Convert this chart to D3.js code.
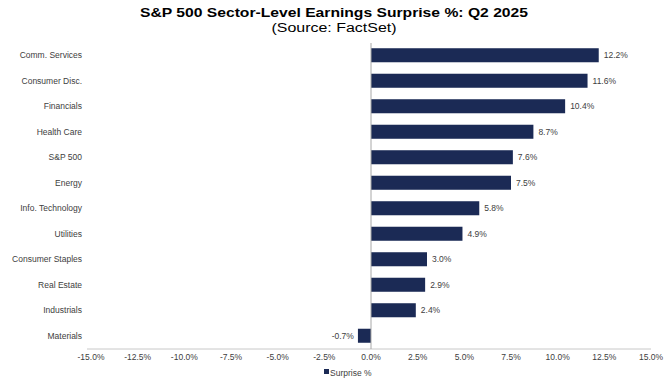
<!DOCTYPE html>
<html>
<head>
<meta charset="utf-8">
<script src="https://cdn.jsdelivr.net/npm/d3@7"></script>
<style>
  body { margin: 0; background: #fff; }
  text { font-family: "Liberation Sans", Arial, sans-serif; }
</style>
</head>
<body>
<svg id="chart"></svg>
<script>
const sectors = ["Comm. Services", "Consumer Disc.", "Financials", "Health Care", "S&P 500", "Energy",
  "Info. Technology", "Utilities", "Consumer Staples", "Real Estate", "Industrials", "Materials"];
const surprise = [12.2, 11.6, 10.4, 8.7, 7.6, 7.5, 5.8, 4.9, 3.0, 2.9, 2.4, -0.7];
const xTicks = [-15, -12.5, -10, -7.5, -5, -2.5, 0, 2.5, 5, 7.5, 10, 12.5, 15];

const width = 667, height = 382;
const svg = d3.select("#chart").attr("width", width).attr("height", height);

const x = d3.scaleLinear().domain([-15, 15]).range([91, 651]);
const y = d3.scaleBand().domain(sectors).range([42.5, 348.5]).paddingInner(0.45).paddingOuter(0.225);

// hyphen instead of unicode minus, like the original
const pct = d => d3.format(".1f")(d).replace("\u2212", "-") + "%";

// title
svg.append("text")
  .attr("x", 334).attr("y", 17)
  .attr("text-anchor", "middle")
  .attr("font-size", 13).attr("font-weight", "bold")
  .attr("textLength", 388).attr("lengthAdjust", "spacingAndGlyphs")
  .text("S&P 500 Sector-Level Earnings Surprise %: Q2 2025");
svg.append("text")
  .attr("x", 334).attr("y", 32)
  .attr("text-anchor", "middle")
  .attr("font-size", 12)
  .attr("textLength", 125).attr("lengthAdjust", "spacingAndGlyphs")
  .text("(Source: FactSet)");

// horizontal axis line
svg.append("line")
  .attr("x1", 87).attr("x2", 651)
  .attr("y1", 349).attr("y2", 349)
  .attr("stroke", "#c8c8c8").attr("stroke-width", 1);

// tick labels
svg.selectAll(".xt")
  .data(xTicks)
  .enter()
  .append("text")
  .attr("class", "xt")
  .attr("x", d => x(d))
  .attr("y", 360)
  .attr("text-anchor", "middle")
  .attr("font-size", 8.5)
  .attr("fill", "#404040")
  .text(pct);

// bars
svg.selectAll(".bar")
  .data(surprise)
  .enter()
  .append("rect")
  .attr("class", "bar")
  .attr("x", d => Math.min(x(0), x(d)))
  .attr("y", (d, i) => y(sectors[i]))
  .attr("width", d => Math.abs(x(d) - x(0)))
  .attr("height", y.bandwidth())
  .attr("fill", "#1b2a55");

// vertical axis line
svg.append("line")
  .attr("x1", x(0)).attr("x2", x(0))
  .attr("y1", 43).attr("y2", 349)
  .attr("stroke", "#a8a8a8").attr("stroke-width", 1);

// category labels
svg.selectAll(".cat")
  .data(sectors)
  .enter()
  .append("text")
  .attr("class", "cat")
  .attr("x", 82)
  .attr("y", d => y(d) + y.bandwidth() / 2)
  .attr("dy", "0.35em")
  .attr("text-anchor", "end")
  .attr("font-size", 8.5)
  .attr("fill", "#404040")
  .text(d => d);

// value labels
svg.selectAll(".val")
  .data(surprise)
  .enter()
  .append("text")
  .attr("class", "val")
  .attr("x", d => d >= 0 ? x(d) + 5 : x(d) - 4)
  .attr("y", (d, i) => y(sectors[i]) + y.bandwidth() / 2)
  .attr("dy", "0.35em")
  .attr("text-anchor", d => d >= 0 ? "start" : "end")
  .attr("font-size", 8.5)
  .attr("fill", "#404040")
  .text(pct);

// legend
const legend = svg.append("g").attr("transform", "translate(324,373)");
legend.append("rect")
  .attr("x", 0).attr("y", -4)
  .attr("width", 5).attr("height", 5)
  .attr("fill", "#1b2a55");
legend.append("text")
  .attr("x", 6).attr("y", 0)
  .attr("dy", "0.35em")
  .attr("font-size", 8.5)
  .attr("fill", "#404040")
  .text("Surprise %");
</script>
</body>
</html>
